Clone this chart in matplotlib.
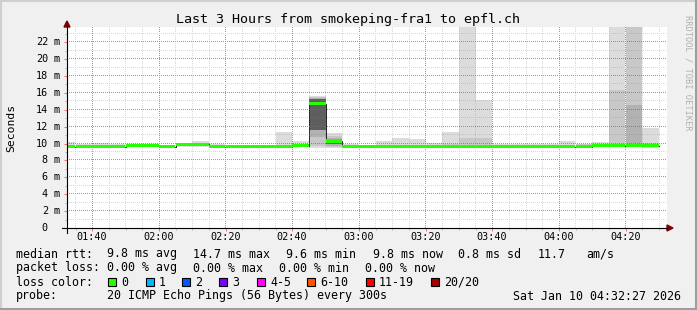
import numpy as np
import matplotlib
matplotlib.use("Agg")
import matplotlib.pyplot as plt
from matplotlib.lines import Line2D
from matplotlib.patches import Rectangle, Polygon

# 5 minute bins, 01:30 .. 04:25 (minutes after midnight)
bin_start = np.arange(90, 270, 5)

median = [9.6, 9.6, 9.6, 9.6, 9.75, 9.75, 9.6, 9.85, 9.9, 9.6, 9.6, 9.6,
          9.6, 9.6, 9.75, 14.7, 10.3, 9.6, 9.6, 9.6, 9.6, 9.6, 9.6, 9.6,
          9.6, 9.6, 9.6, 9.6, 9.6, 9.6, 9.6, 9.6, 9.75, 9.75, 9.75, 9.75]

# smoke: spread of the 20 pings in each bin (ms)
ping_max = [10.2, 9.9, 10.1, 9.95, 9.9, 9.9, 9.8, 9.95, 10.3, 10.0, 9.8, 9.8,
            9.8, 11.4, 10.3, 15.6, 11.3, 10.0, 9.8, 10.3, 10.7, 10.5, 10.1, 11.4,
            24.0, 15.2, 10.0, 10.0, 10.0, 10.0, 10.3, 10.0, 10.2, 24.0, 24.0, 11.8]
ping_q90 = [9.8, 9.75, 9.8, 9.75, 9.85, 9.85, 9.7, 9.95, 10.0, 9.75, 9.7, 9.7,
            9.7, 9.8, 9.9, 15.5, 10.9, 9.75, 9.7, 9.8, 9.8, 9.8, 9.75, 9.9,
            10.6, 10.6, 9.75, 9.75, 9.75, 9.75, 9.8, 10.0, 9.9, 16.3, 24.0, 10.1]
ping_q75 = [9.7, 9.7, 9.7, 9.7, 9.8, 9.8, 9.65, 9.9, 9.95, 9.7, 9.65, 9.65,
            9.65, 9.7, 9.8, 15.4, 10.6, 9.7, 9.65, 9.7, 9.7, 9.7, 9.7, 9.7,
            9.8, 9.8, 9.7, 9.7, 9.7, 9.7, 9.7, 9.7, 9.85, 9.9, 14.6, 9.9]
ping_q60 = [9.62, 9.62, 9.62, 9.62, 9.78, 9.78, 9.62, 9.88, 9.92, 9.62, 9.62, 9.62,
            9.62, 9.62, 9.78, 15.3, 10.45, 9.62, 9.62, 9.62, 9.62, 9.62, 9.62, 9.62,
            9.62, 9.62, 9.62, 9.62, 9.62, 9.62, 9.62, 9.62, 9.78, 9.78, 9.78, 9.78]
ping_q40 = [9.58, 9.58, 9.58, 9.58, 9.72, 9.72, 9.58, 9.82, 9.85, 9.58, 9.58, 9.58,
            9.58, 9.58, 9.72, 11.6, 9.95, 9.58, 9.58, 9.58, 9.58, 9.58, 9.58, 9.58,
            9.58, 9.58, 9.58, 9.58, 9.58, 9.58, 9.58, 9.58, 9.72, 9.72, 9.72, 9.72]
ping_q25 = [9.55, 9.55, 9.55, 9.55, 9.68, 9.68, 9.55, 9.75, 9.8, 9.55, 9.55, 9.55,
            9.55, 9.55, 9.68, 10.8, 9.7, 9.55, 9.55, 9.55, 9.55, 9.55, 9.55, 9.55,
            9.55, 9.55, 9.55, 9.55, 9.55, 9.55, 9.55, 9.55, 9.68, 9.68, 9.68, 9.6]
ping_q10 = [9.52, 9.52, 9.52, 9.52, 9.65, 9.65, 9.52, 9.7, 9.72, 9.52, 9.52, 9.52,
            9.52, 9.52, 9.65, 9.7, 9.55, 9.52, 9.52, 9.52, 9.52, 9.52, 9.52, 9.52,
            9.52, 9.52, 9.52, 9.52, 9.52, 9.52, 9.52, 9.52, 9.65, 9.65, 9.65, 9.55]
ping_min = [9.5, 9.5, 9.5, 9.5, 9.6, 9.6, 9.5, 9.6, 9.6, 9.5, 9.5, 9.5,
            9.5, 9.5, 9.6, 9.5, 9.5, 9.5, 9.5, 9.5, 9.5, 9.5, 9.5, 9.5,
            9.5, 9.5, 9.5, 9.5, 9.5, 9.5, 9.5, 9.5, 9.6, 9.6, 9.6, 9.45]

x_ticks = [100, 120, 140, 160, 180, 200, 220, 240, 260]
x_labels = ["01:40", "02:00", "02:20", "02:40", "03:00", "03:20", "03:40", "04:00", "04:20"]
x_minor = np.arange(95, 272, 5)
y_ticks = [0, 2, 4, 6, 8, 10, 12, 14, 16, 18, 20, 22]
y_minor = np.arange(1, 24, 1)

loss_labels = ["0", "1", "2", "3", "4-5", "6-10", "11-19", "20/20"]
loss_colors = ["#26ff00", "#00b8ff", "#0059ff", "#7e00ff", "#ff00ff", "#ff5500", "#ff0000", "#a10000"]

t_start, t_end = 92.45, 272.45   # 01:32:27 .. 04:32:27
y_top = 23.8

W, H = 697, 310
PW, PH = 600, 201   # plot area in pixels
MONO = "DejaVu Sans Mono"


def fx(x):
    return x / W


def fy(y):
    return 1 - y / H


fig = plt.figure(figsize=(W / 100, H / 100), dpi=100, facecolor="#f0f0f0")
ax = fig.add_axes([fx(67), fy(228), PW / W, PH / H])
ax.set_facecolor("white")
ax.set_xlim(t_start, t_end)
ax.set_ylim(0, y_top)
for s in ax.spines.values():
    s.set_visible(False)

# smoke bands, outer (light) to inner (dark)
bands = [(ping_min, ping_max, "#dcdcdc"),
         (ping_q10, ping_q90, "#c8c8c8"),
         (ping_q25, ping_q75, "#b2b2b2"),
         (ping_q40, ping_q60, "#5e5e5e")]
for lo, hi, col in bands:
    lo = np.array(lo)
    hi = np.array(hi)
    ax.bar(bin_start, hi - lo, bottom=lo, width=5, align="edge",
           color=col, linewidth=0, zorder=1)

# median: thin dark step under the loss coloured band
edges = np.append(bin_start, bin_start[-1] + 5)
ax.step(edges, np.append(median, median[-1]), where="post",
        color="#202020", lw=0.7, zorder=2)

# dotted rrdtool grid as a pixel overlay (drawn over the smoke)
grid = np.zeros((PH, PW, 4))
minor_c = (0.5, 0.5, 0.5, 0.3)
major_c = (1.0, 0.2, 0.2, 0.7)
for vals, col in ((x_minor, minor_c), (x_ticks, major_c)):
    for t in vals:
        c = int(round((t - t_start) / (t_end - t_start) * PW))
        if 0 <= c < PW:
            grid[::2, c] = col
for vals, col in ((y_minor, minor_c), (y_ticks[1:], major_c)):
    for v in vals:
        r = PH - 1 - int(round(v / y_top * PH))
        if 0 <= r < PH:
            grid[r, ::2] = col
ax.imshow(grid, extent=(t_start, t_end, 0, y_top), aspect="auto",
          interpolation="nearest", zorder=2.5)

ax.bar(bin_start, 0.36, bottom=np.array(median) - 0.18, width=5, align="edge",
       color=loss_colors[0], linewidth=0, zorder=3)

ax.set_xticks(x_ticks)
ax.set_xticks(x_minor, minor=True)
ax.set_yticks(y_ticks[1:])
ax.set_yticks(y_minor, minor=True)
ax.tick_params(which="both", labelbottom=False, labelleft=False, direction="out", width=0.7)
ax.tick_params(which="major", length=2.5, color=(1, 0.4, 0.4))
ax.tick_params(which="minor", length=1.5, color=(0.7, 0.7, 0.7))

# axes with arrows
fig.add_artist(Line2D([fx(62), fx(667)], [fy(228), fy(228)], color="black", lw=0.8))
fig.add_artist(Line2D([fx(67), fx(67)], [fy(233), fy(26)], color="black", lw=0.8))
fig.add_artist(Polygon([[fx(667), fy(225)], [fx(673), fy(228)], [fx(667), fy(231)]],
                       closed=True, color="#800000", transform=fig.transFigure))
fig.add_artist(Polygon([[fx(64), fy(27)], [fx(67), fy(21)], [fx(70), fy(27)]],
                       closed=True, color="#800000", transform=fig.transFigure))

# tick labels
for t, lab in zip(x_ticks, x_labels):
    px = 67 + (t - t_start) / (t_end - t_start) * PW
    fig.text(fx(px), fy(237), lab, ha="center", va="center", family=MONO, fontsize=7.3)
for v in y_ticks:
    py = 228 - v / y_top * PH
    fig.text(fx(48), fy(py), str(v), ha="right", va="center", family=MONO, fontsize=7.3)
    if v:
        fig.text(fx(57), fy(py), "m", ha="center", va="center", family=MONO, fontsize=7.3)

fig.text(fx(348), fy(19), "Last 3 Hours from smokeping-fra1 to epfl.ch",
         ha="center", va="center", family=MONO, fontsize=9.6)
fig.text(fx(11), fy(128), "Seconds", rotation=90, ha="center", va="center",
         family=MONO, fontsize=8.2)
fig.text(fx(688), fy(73), "RRDTOOL / TOBI OETIKER", rotation=270, ha="center", va="center",
         family=MONO, fontsize=6.3, color="#b0b0b0")

# legend rows
fs = 8.4
rows = [
    (254, [(16, "median rtt:"), (107, "9.8 ms avg"), (193, "14.7 ms max"), (286, "9.6 ms min"),
           (373, "9.8 ms now"), (458, "0.8 ms sd"), (538, "11.7"), (586, "am/s")]),
    (268, [(16, "packet loss:"), (107, "0.00 % avg"), (193, "0.00 % max"), (279, "0.00 % min"),
           (365, "0.00 % now")]),
    (282, [(16, "loss color:")]),
    (296, [(16, "probe:"), (107, "20 ICMP Echo Pings (56 Bytes) every 300s")]),
]
for y, items in rows:
    for x, s in items:
        fig.text(fx(x), fy(y), s, ha="left", va="center", family=MONO, fontsize=fs)
fig.text(fx(681), fy(296), "Sat Jan 10 04:32:27 2026", ha="right", va="center",
         family=MONO, fontsize=fs)

box_x = [108, 146, 182, 219, 257, 307, 366, 431]
for bx, lab, col in zip(box_x, loss_labels, loss_colors):
    fig.add_artist(Rectangle((fx(bx), fy(286)), 8 / W, 8 / H, transform=fig.transFigure,
                             facecolor=col, edgecolor="black", lw=0.8))
    fig.text(fx(bx + 13), fy(282), lab, ha="left", va="center", family=MONO, fontsize=fs)

# rrdtool style shaded frame
fig.add_artist(Line2D([0, 1], [fy(0.5), fy(0.5)], color="#cfcfcf", lw=1.5))
fig.add_artist(Line2D([fx(0.5), fx(0.5)], [0, 1], color="#cfcfcf", lw=1.5))
fig.add_artist(Line2D([0, 1], [fy(309), fy(309)], color="#9e9e9e", lw=2.2))
fig.add_artist(Line2D([fx(696), fx(696)], [0, 1], color="#9e9e9e", lw=2.2))

fig.savefig("out.png", dpi=100, facecolor=fig.get_facecolor())
